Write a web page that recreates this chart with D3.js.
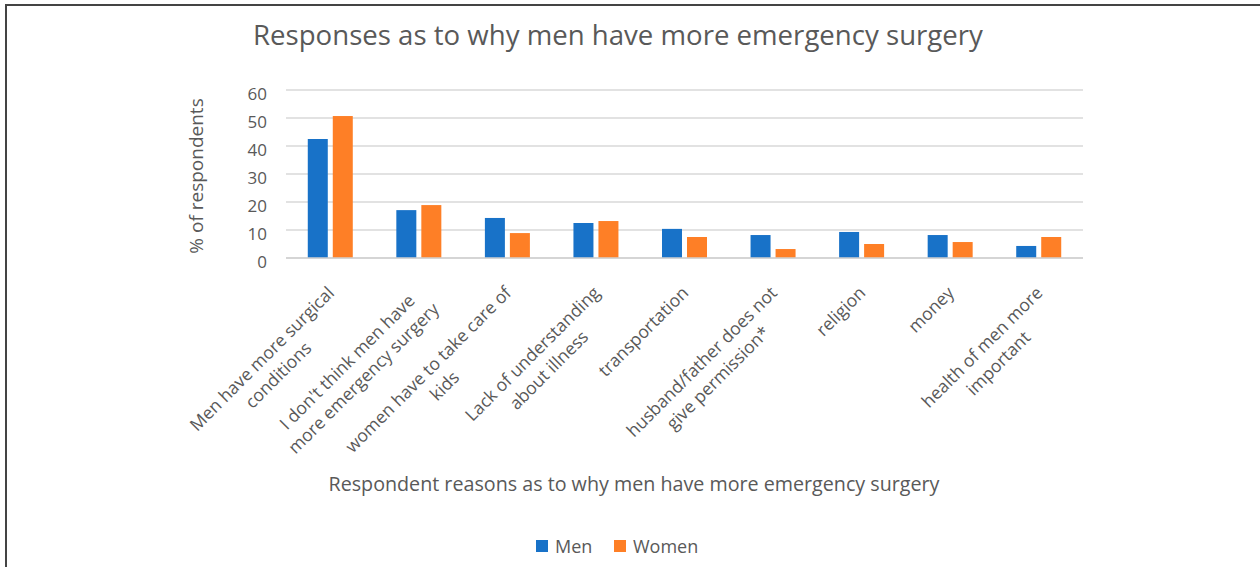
<!DOCTYPE html>
<html>
<head>
<meta charset="utf-8">
<script src="https://cdn.jsdelivr.net/npm/d3@7"></script>
<style>
  body { margin: 0; background: #fff; }
  text { font-family: "Open Sans", sans-serif; fill: #595959; }
</style>
</head>
<body>
<div id="chart"></div>
<script>
// data
var categories = [
  "Men have more surgical\nconditions",
  "I don't think men have\nmore emergency surgery",
  "women have to take care of\nkids",
  "Lack of understanding\nabout illness",
  "transportation",
  "husband/father does not\ngive permission*",
  "religion",
  "money",
  "health of men more\nimportant"
];
var series = ["Men", "Women"];
var menValues = [42.5, 17.1, 14.3, 12.5, 10.4, 8.2, 9.3, 8.2, 4.3];
var womenValues = [50.7, 18.9, 8.9, 13.2, 7.5, 3.2, 5.0, 5.7, 7.5];
var yTicks = [0, 10, 20, 30, 40, 50, 60];
var colors = { Men: "#1872c8", Women: "#fe7f26" };

var w = 1260, h = 567;
var svg = d3.select("#chart").append("svg")
  .attr("width", w)
  .attr("height", h);

// frame (top + left only, like the screenshot)
svg.append("line").attr("x1", 5).attr("x2", w).attr("y1", 5).attr("y2", 5)
  .attr("stroke", "#444").attr("stroke-width", 2);
svg.append("line").attr("x1", 6).attr("x2", 6).attr("y1", 5).attr("y2", h)
  .attr("stroke", "#444").attr("stroke-width", 2);

var x = d3.scaleBand().domain(categories).range([286, 1083]);
var y = d3.scaleLinear().domain([0, 60]).range([258, 90]);
var bw = x.bandwidth();
var x1 = d3.scaleBand().domain(series)
  .range([bw / 2 - 22.5, bw / 2 + 22.5])
  .paddingInner(0.2);

// grid
svg.append("g").selectAll("line")
  .data(yTicks)
  .enter().append("line")
  .attr("x1", 286).attr("x2", 1083)
  .attr("y1", function(d) { return y(d); })
  .attr("y2", function(d) { return y(d); })
  .attr("stroke", "#d9d9d9")
  .attr("stroke-width", 1.3);

// tick labels
svg.append("g").selectAll("text")
  .data(yTicks)
  .enter().append("text")
  .attr("x", 267)
  .attr("y", function(d) { return y(d) + 10; })
  .attr("text-anchor", "end")
  .style("font-size", "17px")
  .text(function(d) { return d; });

// bars
var rows = categories.map(function(c, i) {
  return { cat: c, Men: menValues[i], Women: womenValues[i] };
});

var groups = svg.append("g").selectAll("g")
  .data(rows)
  .enter().append("g")
  .attr("transform", function(d) { return "translate(" + x(d.cat) + ",0)"; });

groups.selectAll("rect")
  .data(function(d) { return series.map(function(s) { return { s: s, v: d[s] }; }); })
  .enter().append("rect")
  .attr("x", function(d) { return x1(d.s); })
  .attr("width", x1.bandwidth())
  .attr("y", function(d) { return y(d.v); })
  .attr("height", function(d) { return y(0) - y(d.v); })
  .attr("fill", function(d) { return colors[d.s]; });

// baseline over the bars
svg.append("line").attr("x1", 286).attr("x2", 1083)
  .attr("y1", y(0)).attr("y2", y(0))
  .attr("stroke", "#d0d0d0").attr("stroke-width", 1.3);

// rotated category labels, lines centred on each other
var lh = 23;
var labels = svg.append("g").selectAll("g")
  .data(categories)
  .enter().append("g")
  .attr("transform", function(d) {
    return "translate(" + (x(d) + bw / 2 + 5) + "," + (y(0) + 36) + ") rotate(-45)";
  });

labels.each(function(d) {
  var g = d3.select(this);
  var lines = d.split("\n");
  var texts = lines.map(function(l, i) {
    return g.append("text")
      .attr("text-anchor", "end")
      .attr("y", i * lh)
      .style("font-size", "17.5px")
      .text(l);
  });
  var widths = texts.map(function(t) { return t.node().getComputedTextLength(); });
  var W = d3.max(widths);
  texts.forEach(function(t, i) { t.attr("x", -(W - widths[i]) / 2); });
});

// title
svg.append("text")
  .attr("x", 618).attr("y", 45)
  .attr("text-anchor", "middle")
  .style("font-size", "27.6px")
  .text("Responses as to why men have more emergency surgery");

// axis titles
svg.append("text")
  .attr("transform", "translate(203,176) rotate(-90)")
  .attr("text-anchor", "middle")
  .style("font-size", "19px")
  .text("% of respondents");

svg.append("text")
  .attr("x", 634).attr("y", 491)
  .attr("text-anchor", "middle")
  .style("font-size", "19.7px")
  .text("Respondent reasons as to why men have more emergency surgery");

// legend
var legend = svg.append("g").selectAll("g")
  .data(series)
  .enter().append("g")
  .attr("transform", function(d, i) { return "translate(" + (536 + i * 78) + ",540)"; });

legend.append("rect")
  .attr("width", 12).attr("height", 12)
  .attr("fill", function(d) { return colors[d]; });

legend.append("text")
  .attr("x", 19).attr("y", 12.5)
  .style("font-size", "18px")
  .text(function(d) { return d; });
</script>
</body>
</html>
